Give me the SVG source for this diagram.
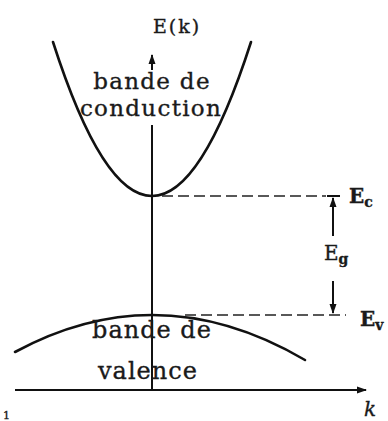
<svg xmlns="http://www.w3.org/2000/svg" width="388" height="421" viewBox="0 0 388 421">
<defs>
<marker id="big" viewBox="0 0 10 10" refX="9" refY="5" markerWidth="12" markerHeight="10" orient="auto" markerUnits="userSpaceOnUse">
<path d="M0,1.5 L10,5 L0,8.5 z" fill="#111"/>
</marker>
</defs>
<style>
.t{font-family:"DejaVu Serif","Liberation Serif",serif;fill:#1a1a1a;stroke:#1a1a1a;stroke-width:0.35}
.c{fill:none;stroke:#111;stroke-width:2.6;stroke-linecap:round}
.ax{fill:none;stroke:#111;stroke-width:2}
.d{fill:none;stroke:#222;stroke-width:1.6;stroke-dasharray:11 5}
</style>
<rect width="388" height="421" fill="#fff"/>
<g id="connectors">
<line class="ax" x1="152" y1="125" x2="152" y2="390"/>
<line class="ax" x1="152" y1="70" x2="152" y2="55" marker-end="url(#big)"/>
<line class="ax" x1="15" y1="390" x2="366" y2="390" marker-end="url(#big)"/>
<line class="d" x1="162" y1="196" x2="326" y2="196"/>
<line class="d" x1="185" y1="315" x2="346" y2="315"/>
<line class="ax" x1="327" y1="196" x2="340" y2="196"/>
<line class="ax" x1="333" y1="236" x2="333" y2="198" marker-end="url(#big)"/>
<line class="ax" x1="333" y1="281" x2="333" y2="313" marker-end="url(#big)"/>
</g>
<g id="conduction">
<path class="c" d="M53,42 Q102.5,196 152,196 Q201.5,196 251,42"/>
<text class="t" x="152" y="89" font-size="23" letter-spacing="1.3" text-anchor="middle">bande de</text>
<text class="t" x="151" y="116" font-size="23" letter-spacing="1.3" text-anchor="middle">conduction</text>
</g>
<g id="valence">
<path class="c" d="M15,352 Q83.5,315 152,315 Q228.5,315 305,360"/>
<text class="t" x="152" y="338" font-size="24" letter-spacing="1" text-anchor="middle">bande de</text>
<text class="t" x="148" y="379" font-size="24" letter-spacing="1" text-anchor="middle">valence</text>
</g>
<g id="labels">
<text class="t" x="177" y="33" font-size="19" letter-spacing="2" text-anchor="middle">E(k)</text>
<text class="t" x="349" y="203" font-size="20" font-weight="bold">E<tspan font-size="14" dy="4">c</tspan></text>
<text class="t" x="324" y="260" font-size="20">E<tspan font-size="14" font-weight="bold" dy="4">g</tspan></text>
<text class="t" x="360" y="326" font-size="20" font-weight="bold">E<tspan font-size="14" dy="4">v</tspan></text>
<text class="t" x="364" y="416" font-size="20" font-style="italic">k</text>
<text class="t" x="3" y="419" font-size="11">1</text>
</g>
</svg>
